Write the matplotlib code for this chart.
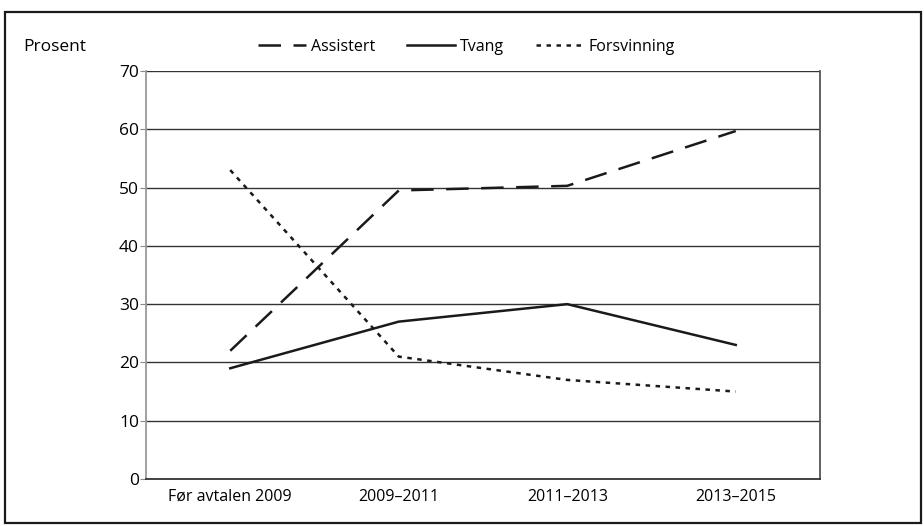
import matplotlib
matplotlib.use("Agg")
import matplotlib.pyplot as plt
from matplotlib.patches import Rectangle
from matplotlib.lines import Line2D

categories = ["Før avtalen 2009", "2009–2011", "2011–2013", "2013–2015"]
assistert = [22, 49.5, 50.3, 59.7]
tvang = [19, 27, 30, 23]
forsvinning = [53, 21, 17, 15]
yticks = [0, 10, 20, 30, 40, 50, 60, 70]

plt.rcParams['font.family'] = ['Open Sans', 'DejaVu Sans']

fig = plt.figure(figsize=(9.24, 5.26), dpi=100)
ax = fig.add_axes([146/924, 47/526, (820-146)/924, (479-71)/526])

x = list(range(len(categories)))
ax.plot(x, assistert, color='#1a1a1a', lw=1.8, dashes=(9, 5), dash_capstyle='butt')
ax.plot(x, tvang, color='#1a1a1a', lw=1.8)
ax.plot(x, forsvinning, color='#1a1a1a', lw=1.8, dashes=(1.8, 2.2), dash_capstyle='butt')

ax.set_xlim(-0.5, 3.5)
ax.set_ylim(0, 70)
ax.set_yticks(yticks)
ax.set_xticks(x)
ax.set_xticklabels(categories, fontsize=11.5)
ax.tick_params(axis='y', labelsize=12.5, length=4, color='#888888', pad=1)
ax.tick_params(axis='x', length=0, pad=7)
for v in yticks[1:]:
    ax.axhline(v, color='#333333', lw=1.0, zorder=0)
ax.spines['top'].set_visible(False)
ax.spines['left'].set_color('#999999')
ax.spines['left'].set_linewidth(1.3)
ax.spines['bottom'].set_color('#333333')
ax.spines['bottom'].set_linewidth(1.3)
ax.spines['right'].set_color('#555555')
ax.spines['right'].set_linewidth(1.3)

fig.text(23/924, 1 - 47/526, "Prosent", fontsize=12.5, va='center', ha='left')

handles = [
    Line2D([], [], color='#1a1a1a', lw=1.8, dashes=(9, 5)),
    Line2D([], [], color='#1a1a1a', lw=1.8),
    Line2D([], [], color='#1a1a1a', lw=1.8, dashes=(1.8, 2.2)),
]
fig.legend(handles, ["Assistert", "Tvang", "Forsvinning"], loc='center left',
           bbox_to_anchor=(258/924, 1 - 47/526), ncol=3, frameon=False,
           fontsize=11.5, handlelength=3.0, handletextpad=0.3, columnspacing=2.0,
           borderpad=0, borderaxespad=0)

fig.patches.append(Rectangle((5/924, 3/526), 916/924, 511/526, transform=fig.transFigure,
                             fill=False, edgecolor='#1a1a1a', lw=1.6))

fig.savefig("out.png", dpi=100)
